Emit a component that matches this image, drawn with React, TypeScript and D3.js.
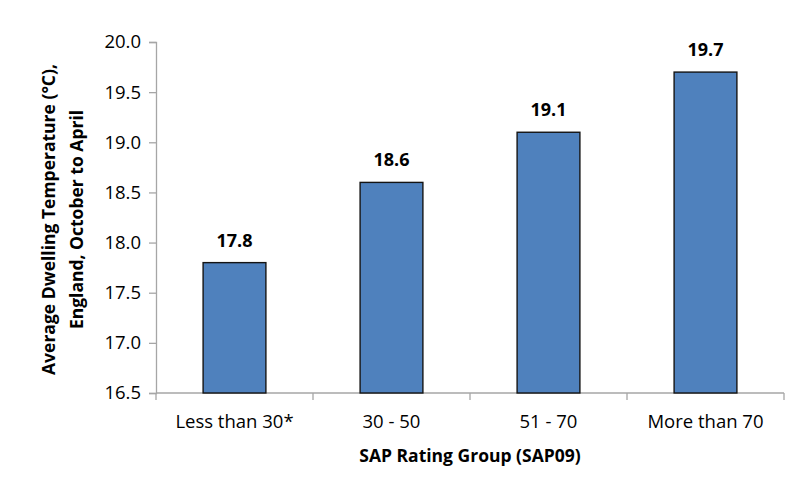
import * as d3 from "d3";
import { useRef, useEffect } from "react";

const categories = ["Less than 30*", "30 - 50", "51 - 70", "More than 70"];
const temperatures = [17.8, 18.6, 19.1, 19.7];
const yTicks = [16.5, 17.0, 17.5, 18.0, 18.5, 19.0, 19.5, 20.0];

export default function App() {
  const chartRef = useRef<SVGSVGElement | null>(null);
  const width = 797;
  const height = 488;
  const margin = { top: 42, right: 13, bottom: 95, left: 156 };

  useEffect(() => {
    const svg = d3.select(chartRef.current);
    svg.selectAll("*").remove();

    const font = "'Open Sans', sans-serif";
    const axisColour = "#a6a6a6";

    // Scales
    const x = d3
      .scaleBand()
      .domain(categories)
      .range([margin.left, width - margin.right])
      .paddingInner(0.6)
      .paddingOuter(0.3);

    const y = d3
      .scaleLinear()
      .domain([16.5, 20])
      .range([height - margin.bottom, margin.top]);

    // Y axis
    const yAxis = svg
      .append("g")
      .attr("transform", `translate(${margin.left},0)`)
      .call(
        d3
          .axisLeft(y)
          .tickValues(yTicks)
          .tickFormat(d3.format(".1f"))
          .tickSize(7)
          .tickPadding(8),
      );
    yAxis.select(".domain").attr("stroke", axisColour).attr("stroke-width", 1.3);
    yAxis.selectAll("line").attr("stroke", axisColour).attr("stroke-width", 1.3);
    yAxis
      .selectAll("text")
      .attr("fill", "#000")
      .style("font-family", font)
      .style("font-size", "18.5px");

    // X axis (ticks at category boundaries)
    const x0 = margin.left;
    const x1 = width - margin.right;
    const y0 = height - margin.bottom;
    const step = (x1 - x0) / categories.length;
    const boundaries = d3.range(categories.length + 1).map((i) => x0 + i * step);

    svg
      .append("line")
      .attr("x1", x0)
      .attr("x2", x1)
      .attr("y1", y0)
      .attr("y2", y0)
      .attr("stroke", axisColour)
      .attr("stroke-width", 1.3);

    svg
      .append("g")
      .selectAll("line")
      .data(boundaries)
      .join("line")
      .attr("x1", (d) => d)
      .attr("x2", (d) => d)
      .attr("y1", y0)
      .attr("y2", y0 + 7)
      .attr("stroke", axisColour)
      .attr("stroke-width", 1.3);

    svg
      .append("g")
      .selectAll("text")
      .data(categories)
      .join("text")
      .attr("x", (d) => x(d)! + x.bandwidth() / 2)
      .attr("y", y0 + 35)
      .attr("text-anchor", "middle")
      .style("font-family", font)
      .style("font-size", "18.5px")
      .text((d) => d);

    // Bars
    const g = svg
      .append("g")
      .selectAll("g")
      .data(categories)
      .join("g");

    g.append("rect")
      .attr("x", (d) => x(d)!)
      .attr("y", (d, i) => y(temperatures[i]))
      .attr("width", x.bandwidth())
      .attr("height", (d, i) => y(16.5) - y(temperatures[i]))
      .attr("fill", "#4f81bd")
      .attr("stroke", "#141414")
      .attr("stroke-width", 1.4);

    // Value labels
    g.append("text")
      .attr("x", (d) => x(d)! + x.bandwidth() / 2)
      .attr("y", (d, i) => y(temperatures[i]) - 16)
      .attr("text-anchor", "middle")
      .style("font-family", font)
      .style("font-size", "18px")
      .style("font-weight", "bold")
      .text((d, i) => d3.format(".1f")(temperatures[i]));

    // Axis titles
    svg
      .append("text")
      .attr("x", (x0 + x1) / 2)
      .attr("y", y0 + 69)
      .attr("text-anchor", "middle")
      .style("font-family", font)
      .style("font-size", "17.5px")
      .style("font-weight", "bold")
      .text("SAP Rating Group (SAP09)");

    const yMid = (margin.top + y0) / 2 + 2;
    const yTitle = svg
      .append("text")
      .attr("transform", `translate(55,${yMid}) rotate(-90)`)
      .attr("text-anchor", "middle")
      .style("font-family", font)
      .style("font-size", "17.5px")
      .style("font-weight", "bold");
    yTitle.append("tspan").attr("x", 0).attr("dy", 0).text("Average Dwelling Temperature (°C),");
    yTitle.append("tspan").attr("x", 0).attr("dy", 28).text("England, October to April");
  }, []);

  return (
    <svg
      ref={chartRef}
      width={width}
      height={height}
      viewBox={`0 0 ${width} ${height}`}
      style={{ position: "absolute", left: 0, top: 0, background: "#fff" }}
    />
  );
}
